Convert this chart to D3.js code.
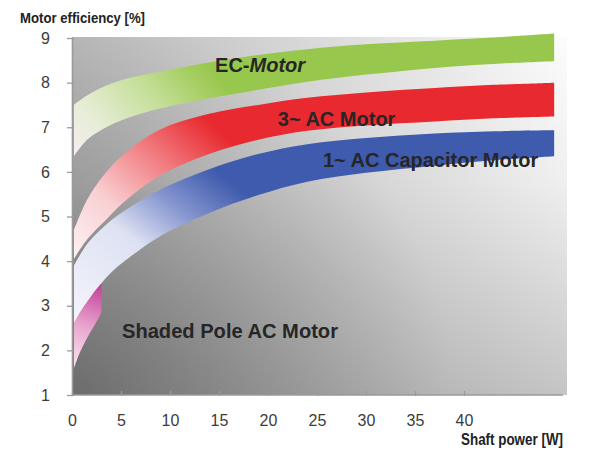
<!DOCTYPE html>
<html>
<head>
<meta charset="utf-8">
<script src="https://cdn.jsdelivr.net/npm/d3@7"></script>
<style>
  html, body { margin: 0; padding: 0; background: #fff; }
  svg { display: block; font-family: "Liberation Sans", Arial, sans-serif; }
</style>
</head>
<body>
<svg id="chart" width="600" height="467"></svg>
<script>
// ---------------- data ----------------
const yTicks = [1, 2, 3, 4, 5, 6, 7, 8, 9];
const xTicks = [0, 5, 10, 15, 20, 25, 30, 35, 40];

// shaft power [W] sample points shared by the three main bands
const powerW = [0.2, 1.6, 3.7, 5.6, 9, 14, 19, 24, 30, 37, 43, 49.2];

// EC-Motor band (efficiency range)
const ecUpper = [7.5, 7.72, 7.95, 8.09, 8.25, 8.45, 8.62, 8.75, 8.86, 8.94, 9.01, 9.1];
const ecLower = [6.35, 6.73, 7.02, 7.2, 7.42, 7.65, 7.84, 8.02, 8.18, 8.33, 8.42, 8.48];

// 3~ AC Motor band
const acUpper = [4.7, 5.4, 6.05, 6.45, 6.95, 7.3, 7.5, 7.66, 7.78, 7.88, 7.95, 8.0];
const acLower = [4.05, 4.5, 4.98, 5.38, 5.92, 6.4, 6.72, 6.92, 7.04, 7.13, 7.2, 7.24];

// 1~ AC Capacitor Motor band
const capUpper = [3.9, 4.4, 4.86, 5.16, 5.6, 6.06, 6.4, 6.62, 6.76, 6.86, 6.91, 6.93];
const capLower = [2.6, 3.1, 3.68, 4.04, 4.56, 5.08, 5.48, 5.78, 5.98, 6.14, 6.26, 6.35];

// Shaded Pole AC Motor band
const spPower = [0.2, 0.8, 1.6, 2.4, 3.0];
const spUpper = [2.6, 2.85, 3.1, 3.35, 3.5];
const spLower = [1.6, 1.95, 2.3, 2.6, 2.85];

const seriesNames = ["EC-Motor", "3~ AC Motor", "1~ AC Capacitor Motor", "Shaded Pole AC Motor"];

// ---------------- layout ----------------
const svg = d3.select("#chart");
const x = d3.scaleLinear().domain([0, 50]).range([72, 562]);
const y = d3.scaleLinear().domain([1, 9]).range([395, 38]);

const defs = svg.append("defs");
const plotX0 = x(0), plotX1 = 567, plotY0 = 37, plotY1 = y(1);

// background shading layers
const hG = defs.append("linearGradient").attr("id", "hShade")
  .attr("gradientUnits", "userSpaceOnUse")
  .attr("x1", plotX0).attr("y1", 0).attr("x2", plotX1).attr("y2", 0);
hG.append("stop").attr("offset", 0).attr("stop-color", "#000").attr("stop-opacity", 0.27);
hG.append("stop").attr("offset", 1).attr("stop-color", "#000").attr("stop-opacity", 0);

const vG = defs.append("linearGradient").attr("id", "vShade")
  .attr("gradientUnits", "userSpaceOnUse")
  .attr("x1", 0).attr("y1", plotY0).attr("x2", 0).attr("y2", plotY1);
vG.append("stop").attr("offset", 0).attr("stop-color", "#000").attr("stop-opacity", 0);
vG.append("stop").attr("offset", 0.4).attr("stop-color", "#000").attr("stop-opacity", 0.05);
vG.append("stop").attr("offset", 1).attr("stop-color", "#000").attr("stop-opacity", 0.22);

const rG = defs.append("radialGradient").attr("id", "cShade")
  .attr("gradientUnits", "userSpaceOnUse")
  .attr("cx", plotX0).attr("cy", plotY1).attr("r", 380);
rG.append("stop").attr("offset", 0).attr("stop-color", "#000").attr("stop-opacity", 0.25);
rG.append("stop").attr("offset", 1).attr("stop-color", "#000").attr("stop-opacity", 0);

const bgG = svg.append("g");
["#fcfcfc", "url(#hShade)", "url(#vShade)", "url(#cShade)"].forEach(f =>
  bgG.append("rect").attr("x", plotX0).attr("y", plotY0)
    .attr("width", plotX1 - plotX0).attr("height", plotY1 - plotY0).attr("fill", f));

function makeGrad(id, p1, p2, stops) {
  const g = defs.append("linearGradient").attr("id", id)
    .attr("gradientUnits", "userSpaceOnUse")
    .attr("x1", x(p1[0])).attr("y1", y(p1[1]))
    .attr("x2", x(p2[0])).attr("y2", y(p2[1]));
  stops.forEach(([o, c]) => g.append("stop").attr("offset", o).attr("stop-color", c));
}
makeGrad("gGreen", [0, 6.35], [13, 8.7],
  [[0, "#f6edf0"], [0.25, "#e6edd6"], [0.6, "#c6df9a"], [0.9, "#a2cc5c"], [1, "#97c74c"]]);
makeGrad("gRed", [0, 4.0], [13, 7.3],
  [[0, "#fdf3f4"], [0.35, "#f9d0d3"], [0.7, "#f1797d"], [1, "#e8292f"]]);
makeGrad("gBlue", [0, 2.6], [13, 6.3],
  [[0, "#f5f5fb"], [0.5, "#dde1f2"], [0.75, "#8595cf"], [1, "#3f5bad"]]);
makeGrad("gPink", [0, 1.6], [3, 3.5],
  [[0, "#fbe8f1"], [0.5, "#e7a3cc"], [1, "#c23c97"]]);

// bands
function band(xs, up, lo) {
  return xs.map((v, i) => ({ p: v, u: up[i], l: lo[i] }));
}
const area = d3.area()
  .x(d => x(d.p)).y0(d => y(d.l)).y1(d => y(d.u))
  .curve(d3.curveCatmullRom.alpha(0.5));

const bands = [
  { data: band(powerW, ecUpper, ecLower), fill: "url(#gGreen)" },
  { data: band(powerW, acUpper, acLower), fill: "url(#gRed)" },
  { data: band(powerW, capUpper, capLower), fill: "url(#gBlue)" },
  { data: band(spPower, spUpper, spLower), fill: "url(#gPink)" }
];
svg.append("g").selectAll("path").data(bands).join("path")
  .attr("d", d => area(d.data))
  .attr("fill", d => d.fill);

// axes
const axisColor = "#9a9a9a";
const yAxis = svg.append("g").attr("transform", `translate(${x(0)},0)`)
  .call(d3.axisLeft(y).tickValues(yTicks).tickFormat(d3.format("d"))
    .tickSize(6).tickSizeOuter(0).tickPadding(16));
yAxis.select(".domain").attr("stroke", axisColor).attr("stroke-width", 1.6);
yAxis.selectAll(".tick line").attr("stroke", axisColor).attr("stroke-width", 1.3).attr("x2", -5).attr("x1", 2);
yAxis.selectAll(".tick text").attr("fill", "#3c3c3c").attr("font-size", 16)
  .attr("font-family", "'Liberation Sans', Arial, sans-serif");

const xAxis = svg.append("g").attr("transform", `translate(0,${y(1)})`)
  .call(d3.axisBottom(x).tickValues(xTicks).tickFormat(d3.format("d"))
    .tickSize(-4).tickSizeOuter(0).tickPadding(20));
xAxis.select(".domain").attr("stroke", axisColor).attr("stroke-width", 1.6)
  .attr("d", `M${x(0)},0H${x(50) + 1}`);
xAxis.selectAll(".tick line").attr("stroke", axisColor).attr("stroke-width", 1.3).attr("y2", -4).attr("y1", 1);
xAxis.selectAll(".tick text").attr("fill", "#3c3c3c").attr("font-size", 16)
  .attr("font-family", "'Liberation Sans', Arial, sans-serif");

// axis titles
svg.append("text").attr("x", 20).attr("y", 23)
  .attr("font-size", 14.5).attr("font-weight", "bold").attr("fill", "#222")
  .attr("textLength", 125).attr("lengthAdjust", "spacingAndGlyphs")
  .text("Motor efficiency [%]");
svg.append("text").attr("x", 461).attr("y", 445)
  .attr("font-size", 16).attr("font-weight", "bold").attr("fill", "#222")
  .attr("textLength", 102).attr("lengthAdjust", "spacingAndGlyphs")
  .text("Shaft power [W]");

// series labels (anchored in data space)
const labelAnchors = [[14.6, 8.23], [21.0, 7.03], [25.6, 6.11], [5.1, 2.28]];
const labels = svg.append("g").attr("font-weight", "bold").attr("fill", "#262626");
const ec = labels.append("text")
  .attr("x", x(labelAnchors[0][0])).attr("y", y(labelAnchors[0][1]))
  .attr("font-size", 20);
ec.append("tspan").text(seriesNames[0].split("-")[0] + "-");
ec.append("tspan").attr("font-style", "italic").text(seriesNames[0].split("-")[1]);

labels.append("text").attr("x", x(labelAnchors[1][0])).attr("y", y(labelAnchors[1][1]))
  .attr("font-size", 20).text(seriesNames[1]);
labels.append("text").attr("x", x(labelAnchors[2][0])).attr("y", y(labelAnchors[2][1]))
  .attr("font-size", 20).text(seriesNames[2]);
labels.append("text").attr("x", x(labelAnchors[3][0])).attr("y", y(labelAnchors[3][1]))
  .attr("font-size", 20).attr("textLength", 216).attr("lengthAdjust", "spacingAndGlyphs")
  .text(seriesNames[3]);
</script>
</body>
</html>
